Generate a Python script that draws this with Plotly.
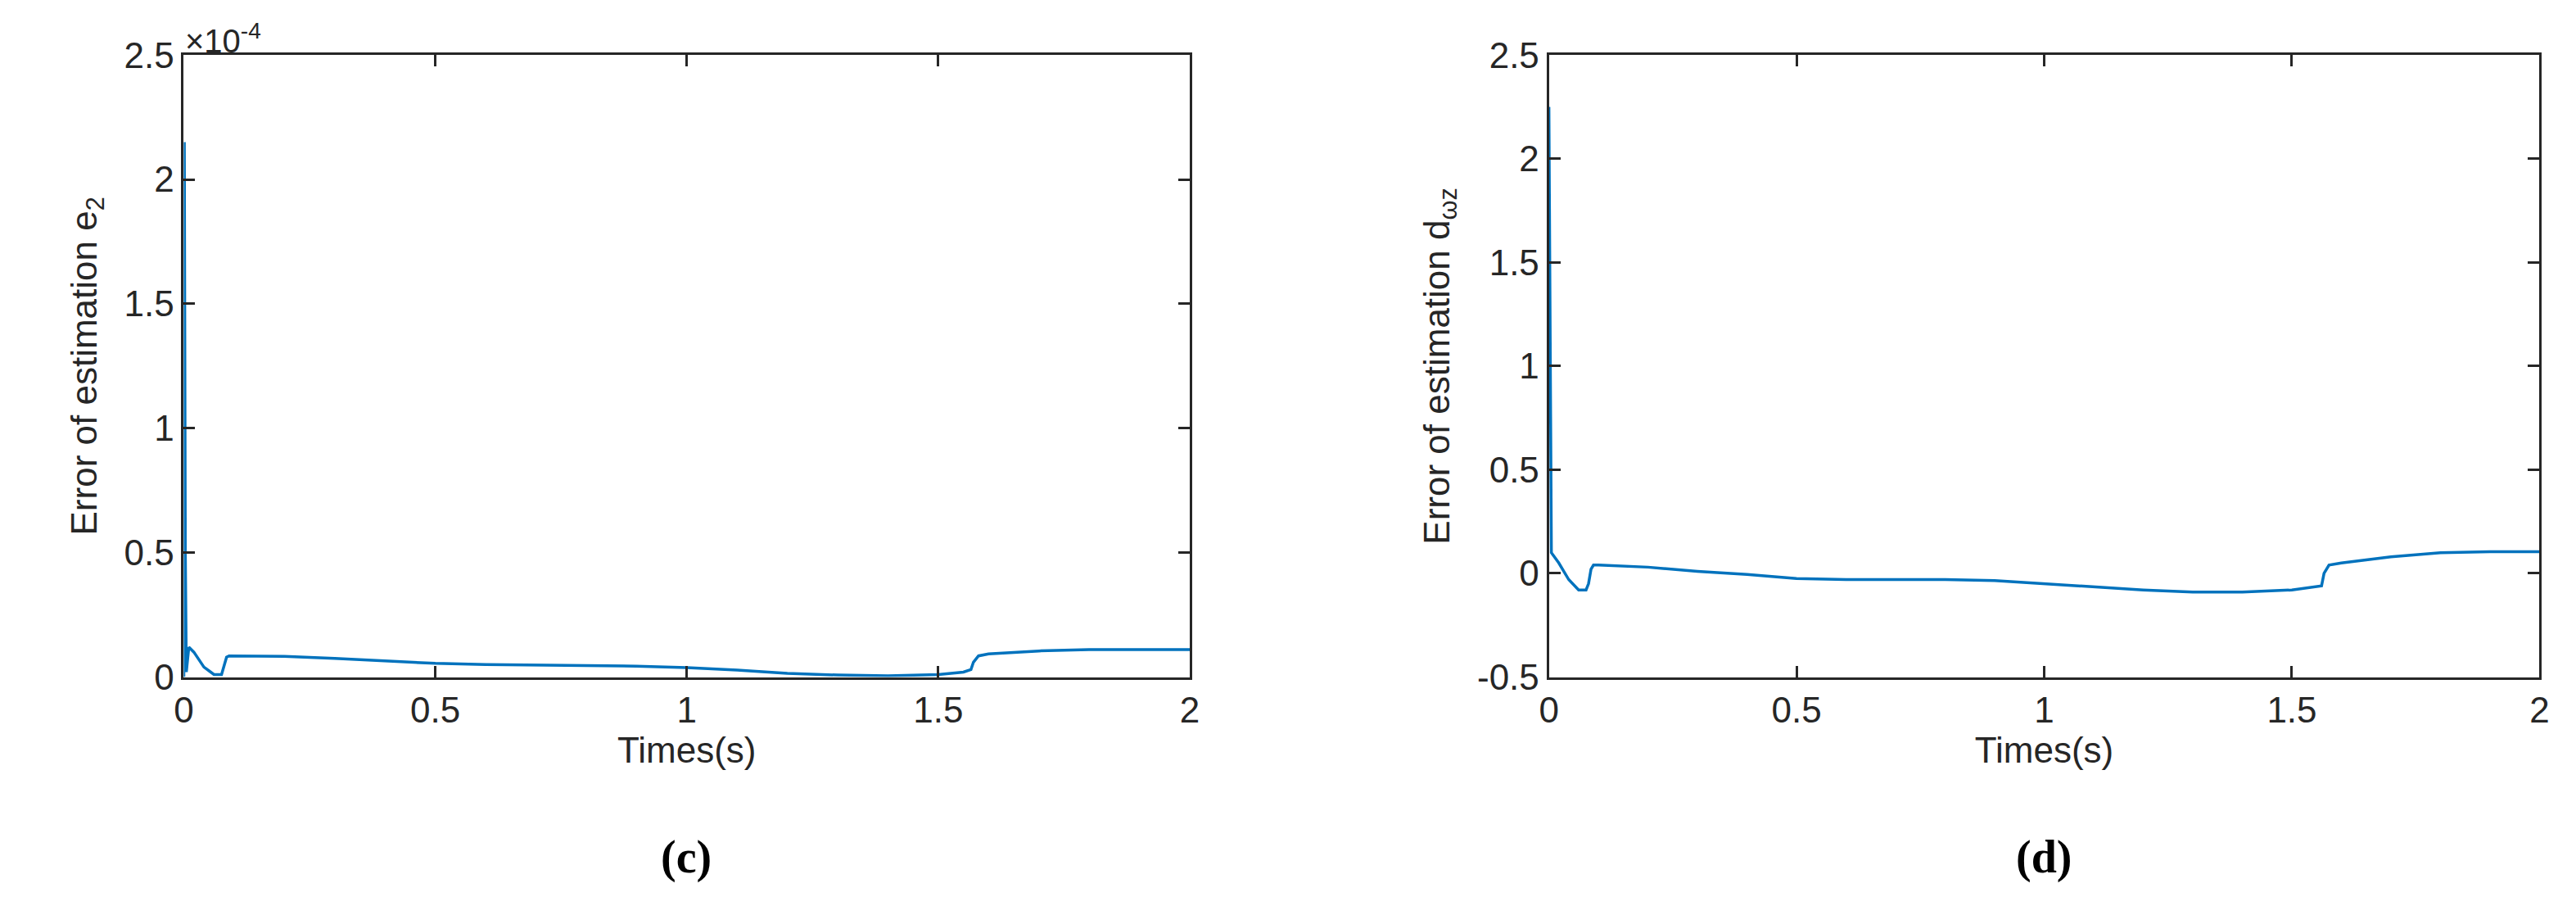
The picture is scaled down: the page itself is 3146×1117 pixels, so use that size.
import plotly.graph_objects as go

t_c = [0,0.001,0.003,0.005,0.01,0.02,0.04,0.06,0.075,0.08,0.085,0.09,0.1,0.2,0.3,0.4,0.5,0.6,0.7,0.8,0.9,1.0,1.1,1.2,1.3,1.4,1.5,1.55,1.565,1.57,1.58,1.6,1.7,1.8,1.9,2.0]
e2 = [0,2.15,0.5,0.02,0.12,0.1,0.04,0.01,0.01,0.05,0.08,0.085,0.085,0.083,0.075,0.065,0.055,0.05,0.048,0.047,0.044,0.038,0.028,0.015,0.008,0.005,0.01,0.02,0.03,0.06,0.085,0.093,0.105,0.11,0.11,0.11]
e2 = [v*1e-4 for v in e2]

t_d = [0,0.005,0.02,0.04,0.06,0.075,0.08,0.085,0.09,0.1,0.2,0.3,0.4,0.5,0.6,0.7,0.8,0.9,1.0,1.1,1.2,1.3,1.4,1.5,1.55,1.56,1.565,1.575,1.6,1.7,1.8,1.9,2.0]
dwz = [2.25,0.1,0.05,-0.03,-0.08,-0.08,-0.05,0.02,0.04,0.04,0.03,0.01,-0.005,-0.025,-0.03,-0.03,-0.03,-0.035,-0.05,-0.065,-0.08,-0.09,-0.09,-0.08,-0.065,-0.06,0.0,0.04,0.05,0.08,0.1,0.105,0.105]

xticks = [0,0.5,1,1.5,2]
yt_c = [0,0.5e-4,1e-4,1.5e-4,2e-4,2.5e-4]
yt_c_lab = ["0","0.5","1","1.5","2","2.5"]
yt_d = [-0.5,0,0.5,1,1.5,2,2.5]
yt_d_lab = ["-0.5","0","0.5","1","1.5","2","2.5"]

blue = "#0072BD"
fnt = dict(family="Liberation Sans, Arial", size=44, color="#262626")
fig = go.Figure()
fig.add_trace(go.Scatter(x=t_c, y=e2, mode="lines", line=dict(color=blue, width=3.5), xaxis="x", yaxis="y"))
fig.add_trace(go.Scatter(x=t_d, y=dwz, mode="lines", line=dict(color=blue, width=3.5), xaxis="x2", yaxis="y2"))

ax = dict(showgrid=False, zeroline=False, showline=True, linecolor="#262626", linewidth=3,
          mirror="ticks", ticks="inside", ticklen=14, tickwidth=3, tickcolor="#262626", tickfont=fnt)
fig.update_layout(
    width=3146, height=1117, margin=dict(l=0, r=0, t=0, b=0),
    paper_bgcolor="white", plot_bgcolor="white", showlegend=False, font=fnt,
    xaxis=dict(ax, domain=[0.0655, 0.459], range=[0, 2], tickvals=xticks, anchor="y",
               title=dict(text="Times(s)", font=fnt, standoff=10)),
    yaxis=dict(ax, domain=[0.257, 0.968], range=[0, 2.5e-4], tickvals=yt_c, ticktext=yt_c_lab, anchor="x",
               title=dict(text="Error of estimation e<sub>2</sub>", font=fnt, standoff=20)),
    xaxis2=dict(ax, domain=[0.5995, 0.987], range=[0, 2], tickvals=xticks, anchor="y2",
                title=dict(text="Times(s)", font=fnt, standoff=10)),
    yaxis2=dict(ax, domain=[0.257, 0.968], range=[-0.5, 2.5], tickvals=yt_d, ticktext=yt_d_lab, anchor="x2",
                title=dict(text="Error of estimation d<sub>ωz</sub>", font=fnt, standoff=20)),
    annotations=[
        dict(text="×10<sup>-4</sup>", x=0.0655, y=0.962, xref="paper", yref="paper",
             xanchor="left", yanchor="bottom", showarrow=False, font=dict(fnt, size=40)),
        dict(text="<b>(c)</b>", x=0.262, y=0.051, xref="paper", yref="paper", xanchor="center", yanchor="middle",
             showarrow=False, font=dict(family="Liberation Serif, Times New Roman", size=56, color="black")),
        dict(text="<b>(d)</b>", x=0.793, y=0.051, xref="paper", yref="paper", xanchor="center", yanchor="middle",
             showarrow=False, font=dict(family="Liberation Serif, Times New Roman", size=56, color="black")),
    ],
)
fig.write_html("out.html")
